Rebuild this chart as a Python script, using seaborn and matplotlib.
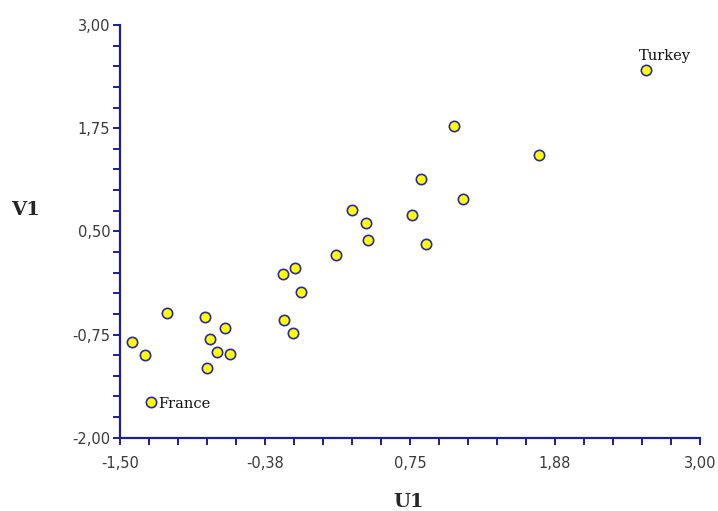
import matplotlib
matplotlib.use("Agg")
import matplotlib.pyplot as plt
from matplotlib.ticker import FixedLocator
import numpy as np
import seaborn as sns
import pandas as pd

# Canonical scores of the countries on the first pair of variates
u1 = [2.579, 1.089, 1.753, 0.835, 1.164, 0.302, 0.409, 0.768, 0.424, 0.874,
      0.176, -0.238, -0.145, -0.093, -0.228, -0.160, -1.138, -0.843, -0.683,
      -0.802, -0.745, -0.647, -0.827, -1.407, -1.304, -1.257]
v1 = [2.459, 1.776, 1.425, 1.131, 0.892, 0.759, 0.601, 0.698, 0.392, 0.347,
      0.213, -0.020, 0.060, -0.238, -0.570, -0.732, -0.493, -0.534, -0.671,
      -0.804, -0.958, -0.982, -1.156, -0.844, -1.002, -1.571]
country = [""] * len(u1)
country[0] = "Turkey"
country[-1] = "France"

x_ticks = [-1.5, -0.375, 0.75, 1.875, 3.0]
x_tick_labels = ["-1,50", "-0,38", "0,75", "1,88", "3,00"]
y_ticks = [-2.0, -0.75, 0.5, 1.75, 3.0]
y_tick_labels = ["-2,00", "-0,75", "0,50", "1,75", "3,00"]

df = pd.DataFrame({"U1": u1, "V1": v1, "country": country})

sns.set_style("white")
axis_col = "#1f1f8f"

fig = plt.figure(figsize=(7.18, 5.11), dpi=100)
ax = fig.add_axes([0.1671, 0.1435, 0.8079, 0.8076])

sns.scatterplot(data=df, x="U1", y="V1", ax=ax, s=55, color="#ffff00",
                edgecolor="#2a2a9a", linewidth=1.2, zorder=3, legend=False)

ax.set_xlim(-1.5, 3.0)
ax.set_ylim(-2.0, 3.0)
ax.xaxis.set_major_locator(FixedLocator(x_ticks))
ax.yaxis.set_major_locator(FixedLocator(y_ticks))
# five sub-intervals between labelled ticks
ax.xaxis.set_minor_locator(FixedLocator(np.linspace(-1.5, 3.0, 21)))
ax.yaxis.set_minor_locator(FixedLocator(np.linspace(-2.0, 3.0, 21)))
ax.set_xticklabels(x_tick_labels)
ax.set_yticklabels(y_tick_labels)

for side in ("top", "right"):
    ax.spines[side].set_visible(False)
for side in ("left", "bottom"):
    ax.spines[side].set_color(axis_col)
    ax.spines[side].set_linewidth(1.6)

ax.tick_params(which="both", direction="out", length=5, width=1.4,
               color=axis_col, labelcolor="#3a3a3a", labelsize=10.5,
               left=True, bottom=True)
ax.tick_params(axis="x", pad=8)
ax.tick_params(axis="y", pad=2)
for lab in ax.get_xticklabels() + ax.get_yticklabels():
    lab.set_family("DejaVu Sans")

ax.set_xlabel("U1", family="DejaVu Serif", fontweight="bold", fontsize=14)
ax.set_ylabel("V1", family="DejaVu Serif", fontweight="bold", fontsize=14,
              rotation=0)
ax.xaxis.set_label_coords(0.497, -0.155)
ax.yaxis.set_label_coords(-0.162, 0.552)
ax.xaxis.label.set_va("center")
ax.yaxis.label.set_va("center")

# Name the two extreme countries
for _, row in df[df["country"] != ""].iterrows():
    if row["country"] == "Turkey":
        off = (-5, 10)
    else:
        off = (5, -1)
    ax.annotate(row["country"], (row["U1"], row["V1"]), xytext=off,
                textcoords="offset points", ha="left", va="center",
                family="DejaVu Serif", fontsize=10.5, color="#111111")

ax.grid(False)
fig.savefig("out.png", dpi=100)
